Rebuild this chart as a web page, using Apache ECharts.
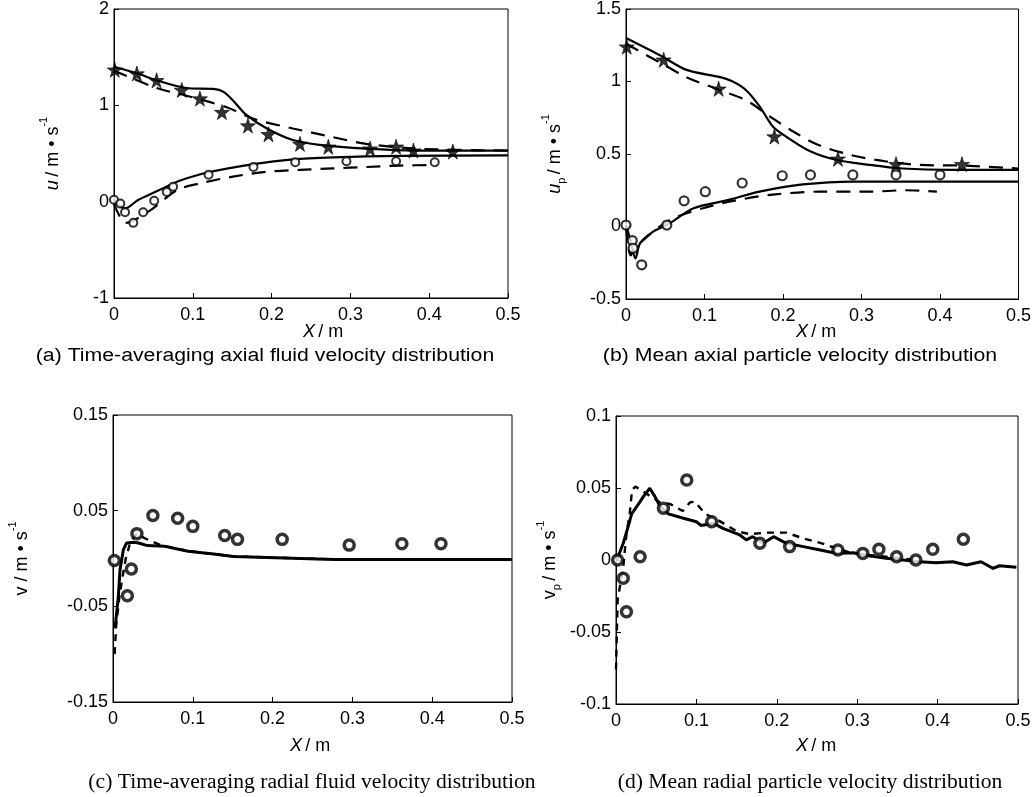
<!DOCTYPE html>
<html><head><meta charset="utf-8">
<script src="https://cdn.jsdelivr.net/npm/echarts@6/dist/echarts.min.js"></script>
<style>html,body{margin:0;padding:0;background:#fff}#c{width:1034px;height:797px}</style>
</head><body><div id="c"></div>
<script>
// ---------- DATA ----------
var xTicks = [0, 0.1, 0.2, 0.3, 0.4, 0.5];
// (a) axial fluid velocity u
var aUpperSolid = [[0,1.40],[0.03,1.33],[0.054,1.26],[0.092,1.18],[0.126,1.17],[0.139,1.14],[0.151,1.05],[0.168,0.90],[0.194,0.76],[0.227,0.64],[0.261,0.59],[0.32,0.55],[0.384,0.53],[0.5,0.53]];
var aUpperDashed = [[0,1.36],[0.054,1.18],[0.092,1.10],[0.143,0.98],[0.177,0.86],[0.227,0.76],[0.278,0.67],[0.32,0.60],[0.384,0.55],[0.5,0.53]];
var aStars = [[0.001,1.37],[0.029,1.33],[0.054,1.26],[0.086,1.16],[0.109,1.07],[0.137,0.93],[0.170,0.79],[0.196,0.70],[0.236,0.60],[0.272,0.57],[0.325,0.55],[0.358,0.57],[0.38,0.53],[0.43,0.52]];
var aLowerSolid = [[0,0.0],[0.014,-0.07],[0.031,0.02],[0.052,0.10],[0.073,0.18],[0.084,0.22],[0.117,0.30],[0.177,0.39],[0.227,0.44],[0.278,0.46],[0.363,0.475],[0.5,0.48]];
var aLowerDashed = [[0,-0.02],[0.015,-0.22],[0.046,-0.09],[0.08,0.12],[0.109,0.19],[0.151,0.26],[0.194,0.31],[0.236,0.33],[0.278,0.345],[0.32,0.36],[0.363,0.375],[0.41,0.38]];
var aCircles = [[0,0.02],[0.008,-0.02],[0.014,-0.11],[0.0245,-0.22],[0.037,-0.11],[0.051,0.01],[0.067,0.10],[0.075,0.155],[0.12,0.28],[0.177,0.36],[0.23,0.41],[0.295,0.42],[0.358,0.42],[0.407,0.41]];
// (b) axial particle velocity up
var bUpperSolid = [[0,1.30],[0.0435,1.18],[0.077,1.08],[0.12,1.03],[0.136,1.0],[0.153,0.94],[0.17,0.83],[0.187,0.69],[0.204,0.62],[0.234,0.52],[0.267,0.46],[0.31,0.425],[0.352,0.40],[0.415,0.39],[0.5,0.39]];
var bUpperDashed = [[0,1.26],[0.0435,1.13],[0.077,1.03],[0.12,0.94],[0.153,0.87],[0.183,0.76],[0.213,0.655],[0.246,0.56],[0.289,0.49],[0.33,0.45],[0.373,0.425],[0.43,0.42],[0.5,0.40]];
var bStars = [[0.001,1.24],[0.048,1.15],[0.118,0.95],[0.189,0.62],[0.27,0.467],[0.344,0.43],[0.428,0.43]];
var bLowerSolid = [[0,0.01],[0.006,-0.10],[0.012,-0.22],[0.018,-0.115],[0.035,-0.034],[0.056,0.023],[0.086,0.126],[0.128,0.18],[0.17,0.24],[0.225,0.29],[0.289,0.31],[0.373,0.31],[0.5,0.31]];
var bLowerDashed = [[0,0.0],[0.006,-0.20],[0.012,-0.15],[0.027,-0.07],[0.056,0.046],[0.098,0.126],[0.14,0.18],[0.187,0.22],[0.246,0.24],[0.31,0.24],[0.356,0.25],[0.396,0.24]];
var bCircles = [[0,0.01],[0.008,-0.097],[0.009,-0.15],[0.02,-0.264],[0.052,0.01],[0.074,0.177],[0.101,0.24],[0.148,0.30],[0.199,0.35],[0.235,0.356],[0.289,0.356],[0.344,0.356],[0.40,0.356]];
// (c) radial fluid velocity v
var cSolid = [[0.0025,-0.073],[0.0067,-0.0395],[0.0088,-0.0117],[0.013,0.0092],[0.017,0.0162],[0.026,0.017],[0.032,0.0162],[0.043,0.0135],[0.065,0.0127],[0.094,0.0075],[0.126,0.0048],[0.151,0.002],[0.214,0.0005],[0.277,-0.001],[0.36,-0.001],[0.5,-0.001]];
var cDashed = [[0.002,-0.10],[0.004,-0.07],[0.008,-0.04],[0.011,-0.024],[0.016,0.0],[0.022,0.018],[0.03,0.026],[0.04,0.021],[0.06,0.014],[0.094,0.0078],[0.151,0.0022],[0.277,-0.0008],[0.5,-0.0008]];
var cCircles = [[0.0017,-0.002],[0.018,-0.039],[0.023,-0.011],[0.03,0.026],[0.05,0.045],[0.081,0.042],[0.1,0.0336],[0.14,0.024],[0.156,0.020],[0.212,0.020],[0.296,0.014],[0.362,0.0155],[0.411,0.0155]];
// (d) radial particle velocity vp
var dSolid = [[0.001,0],[0.009,0.0116],[0.015,0.023],[0.0195,0.032],[0.03,0.0405],[0.034,0.044],[0.042,0.0498],[0.0485,0.044],[0.055,0.037],[0.065,0.032],[0.084,0.029],[0.1,0.0266],[0.106,0.024],[0.121,0.0255],[0.133,0.022],[0.154,0.0174],[0.162,0.014],[0.17,0.0162],[0.183,0.0116],[0.196,0.0162],[0.212,0.0116],[0.233,0.0093],[0.254,0.007],[0.274,0.0046],[0.295,0.005],[0.316,0.0028],[0.336,0.0012],[0.357,0.0],[0.378,-0.0012],[0.398,-0.0019],[0.419,-0.0012],[0.436,-0.0035],[0.454,-0.0012],[0.469,-0.0058],[0.477,-0.004],[0.498,-0.005]];
var dDashed = [[0,-0.076],[0.001,-0.053],[0.002,-0.028],[0.009,-0.005],[0.013,0.018],[0.017,0.032],[0.02,0.0486],[0.024,0.051],[0.038,0.046],[0.055,0.040],[0.067,0.039],[0.083,0.034],[0.092,0.040],[0.098,0.0405],[0.111,0.032],[0.129,0.027],[0.15,0.020],[0.166,0.018],[0.187,0.019],[0.212,0.019],[0.233,0.015],[0.256,0.0116],[0.274,0.008],[0.295,0.0046],[0.336,0.0023],[0.373,0.0]];
var dCircles = [[0.002,0],[0.009,-0.0127],[0.013,-0.036],[0.03,0.0023],[0.059,0.036],[0.088,0.0555],[0.119,0.0266],[0.179,0.0116],[0.216,0.0093],[0.276,0.007],[0.307,0.0046],[0.327,0.0074],[0.349,0.0023],[0.373,0],[0.394,0.0074],[0.432,0.0144]];

// ---------- CHART ----------
var STAR = 'path://M50,0 L61,35 L98,35 L68,57 L79,91 L50,70 L21,91 L32,57 L2,35 L39,35 Z';
var FONT = 'Liberation Sans, Arial, sans-serif';
var SERIF = 'Liberation Serif, Times New Roman, serif';
var grids = [
  {left:114, top:8, width:394, height:290},
  {left:626, top:9, width:394, height:290},
  {left:113, top:415, width:399, height:287},
  {left:616, top:416, width:402, height:288}
];
grids.forEach(function(g){ g.show = true; g.borderColor = '#000'; g.borderWidth = 1; g.backgroundColor='transparent'; });

function fmt(v){ return String(parseFloat(v.toFixed(3))); }
function xAxis(i){
  return {type:'value', gridIndex:i, min:0, max:0.5, interval:0.1,
    axisLine:{show:true, onZero:false, lineStyle:{color:'#000', width:1}},
    axisTick:{show:true, inside:true, length:5, lineStyle:{color:'#000'}},
    splitLine:{show:false},
    axisLabel:{color:'#000', fontSize:18, fontFamily:FONT, margin:8, formatter:fmt}};
}
var rich = {
  i:{fontStyle:'italic', fontSize:18, fontFamily:FONT, color:'#000'},
  n:{fontSize:18, fontFamily:FONT, color:'#000'},
  sub:{fontSize:11, fontFamily:FONT, color:'#000', verticalAlign:'bottom', padding:[0,0,-3,0]},
  sup:{fontSize:11, fontFamily:FONT, color:'#000', verticalAlign:'top', padding:[-6,0,0,0]}
};
function yAxis(i, min, max, interval, name, gap){
  return {type:'value', gridIndex:i, min:min, max:max, interval:interval,
    name:name, nameLocation:'middle', nameRotate:90, nameGap:gap,
    nameTextStyle:{rich:rich, color:'#000'},
    axisLine:{show:true, onZero:false, lineStyle:{color:'#000', width:1}},
    axisTick:{show:true, inside:true, length:5, lineStyle:{color:'#000'}},
    splitLine:{show:false},
    axisLabel:{color:'#000', fontSize:18, fontFamily:FONT, margin:5, formatter:fmt}};
}
function line(i, data, dashed){
  return {type:'line', xAxisIndex:i, yAxisIndex:i, data:data, symbol:'none', smooth:0.3,
    lineStyle:{color:'#000', width:2.2, type: dashed ? [14,9] : 'solid'}, z:3, silent:true};
}
function jag(i, data, dashed){
  return {type:'line', xAxisIndex:i, yAxisIndex:i, data:data, symbol:'none', smooth:false,
    lineStyle:{color:'#000', width: dashed?2.4:3, type: dashed ? [7,6] : 'solid'}, z:3, silent:true};
}
function stars(i, data){
  return {type:'scatter', xAxisIndex:i, yAxisIndex:i, data:data, symbol:STAR, symbolSize:15,
    itemStyle:{color:'#000', borderColor:'#000', borderWidth:0.8}, z:4, silent:true};
}
function circles(i, data, size, bw){
  return {type:'scatter', xAxisIndex:i, yAxisIndex:i, data:data, symbol:'circle', symbolSize:size,
    itemStyle:{color:'#fff', borderColor:'#000', borderWidth:bw}, z:5, silent:true};
}
var texts = [
  ['X / m', 325, 334], ['X / m', 818, 334], ['X / m', 312, 748], ['X / m', 818, 748]
];
var captions = [
  ['(a) Time-averaging axial fluid velocity distribution', 265, 356, FONT, 18, 1.18],
  ['(b) Mean axial particle velocity distribution', 800, 356, FONT, 18, 1.18],
  ['(c) Time-averaging radial fluid velocity distribution', 312, 783, SERIF, 20, 1.08],
  ['(d) Mean radial particle velocity distribution', 810, 783, SERIF, 20, 1.08]
];
var graphic = [];
texts.forEach(function(t){
  graphic.push({type:'text', left:t[1]-22, top:t[2]-11, style:{text:'{i|X} {n|/ m}', rich:rich, fill:'#000'}});
});
captions.forEach(function(c){
  graphic.push({type:'text', x:c[1], y:c[2], scaleX:c[5], style:{text:c[0], fontSize:c[4], fontFamily:c[3], fill:'#000', align:'center', verticalAlign:'middle'}});
});

var chart = echarts.init(document.getElementById('c'));
chart.setOption({
  animation:false,
  backgroundColor:'#fff',
  grid:grids,
  xAxis:[xAxis(0), xAxis(1), xAxis(2), xAxis(3)],
  yAxis:[
    yAxis(0, -1, 2, 1, '{i|u} {n|/ m • s}{sup|-1}', 52),
    yAxis(1, -0.5, 1.5, 0.5, '{i|u}{sub|p} {n|/ m • s}{sup|-1}', 62),
    yAxis(2, -0.15, 0.15, 0.1, '{n|v / m • s}{sup|-1}', 82),
    yAxis(3, -0.1, 0.1, 0.05, '{n|v}{sub|p} {n|/ m • s}{sup|-1}', 57)
  ],
  series:[
    line(0, aUpperSolid, false), line(0, aUpperDashed, true), stars(0, aStars),
    line(0, aLowerSolid, false), line(0, aLowerDashed, true), circles(0, aCircles, 8, 2),
    line(1, bUpperSolid, false), line(1, bUpperDashed, true), stars(1, bStars),
    line(1, bLowerSolid, false), line(1, bLowerDashed, true), circles(1, bCircles, 9, 2.2),
    jag(2, cSolid, false), jag(2, cDashed, true), circles(2, cCircles, 10, 3.5),
    jag(3, dSolid, false), jag(3, dDashed, true), circles(3, dCircles, 10, 3.5)
  ],
  graphic:graphic
});
</script></body></html>
